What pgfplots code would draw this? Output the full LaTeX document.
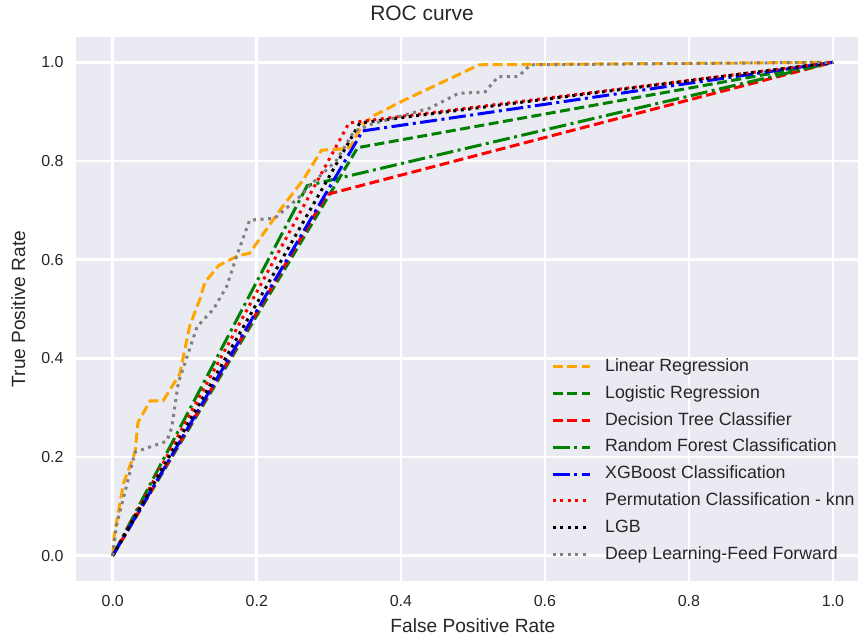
\documentclass[border=0pt]{standalone}
\usepackage{fontspec}
\setmainfont{Liberation Sans}
\usepackage{pgfplots}
\pgfplotsset{compat=1.18}
\definecolor{bgc}{HTML}{EAEAF2}
\definecolor{txt}{HTML}{262626}
\definecolor{mplorange}{HTML}{FFA500}
\definecolor{mplgreen}{HTML}{008000}
\definecolor{mplgray}{HTML}{808080}
\tikzset{
  mpldash/.style={dash pattern=on 10bp off 4.5bp},
  mpldashdot/.style={dash pattern=on 17bp off 4.5bp on 3bp off 4.5bp},
  mpldot/.style={dash pattern=on 3bp off 4.5bp},
}
\begin{document}
\begin{tikzpicture}
\begin{axis}[
  scale only axis,
  width=782bp, height=543.4bp,
  xmin=-0.051, xmax=1.0347,
  ymin=-0.0507, ymax=1.0507,
  axis background/.style={fill=bgc},
  axis line style={draw=none},
  major tick length=0pt,
  xtick={0,0.2,0.4,0.6,0.8,1.0},
  ytick={0,0.2,0.4,0.6,0.8,1.0},
  xticklabels={0.0,0.2,0.4,0.6,0.8,1.0},
  yticklabels={0.0,0.2,0.4,0.6,0.8,1.0},
  grid=major,
  major grid style={white, line width=2.6bp},
  xticklabel style={font=\fontsize{16}{19}\selectfont, text=txt, yshift=-10.7bp},
  yticklabel style={font=\fontsize{16}{19}\selectfont, text=txt, xshift=-9bp},
  title={ROC curve},
  title style={font=\fontsize{21}{25}\selectfont, text=txt, at={(axis description cs:0.4425,1)}, anchor=base, yshift=10.5bp},
  xlabel={False Positive Rate},
  xlabel style={font=\fontsize{19.2}{23}\selectfont, text=txt, at={(axis description cs:0.5075,0)}, anchor=base, yshift=-51.3bp},
  ylabel={True Positive Rate},
  ylabel style={font=\fontsize{19.2}{23}\selectfont, text=txt, at={(axis description cs:-0.0652,0.5)}, anchor=base},
  every axis plot/.append style={line width=3bp},
  legend image code/.code={\draw[#1] (0bp,0bp) -- (37bp,0bp);},
  legend cell align=left,
  legend style={draw=none, fill=none, at={(0.6074,0.4089)}, anchor=north west,
    inner sep=0pt, row sep=10.4bp, column sep=14bp,
    font=\fontsize{17.8}{20}\selectfont, text=txt,
    nodes={inner sep=0pt, text height=12.8bp, text depth=3.6bp}},
]
% Linear Regression
\addplot[mplorange, mpldash] coordinates {
  (0,0) (0.002,0.04) (0.015,0.147) (0.031,0.21) (0.035,0.27) (0.052,0.314)
  (0.07,0.314) (0.093,0.368) (0.107,0.466) (0.121,0.52) (0.128,0.554)
  (0.147,0.588) (0.174,0.608) (0.19,0.613) (0.232,0.70) (0.264,0.761)
  (0.29,0.822) (0.316,0.824) (0.33,0.828) (0.345,0.87) (0.36,0.89)
  (0.40,0.92) (0.509,0.995) (1,1)
};
% Logistic Regression
\addplot[mplgreen, mpldash] coordinates {(0,0) (0.34,0.827) (1,1)};
% Decision Tree
\addplot[red, mpldash] coordinates {(0,0) (0.297,0.732) (1,1)};
% Random Forest
\addplot[mplgreen, mpldashdot] coordinates {(0,0) (0.27,0.75) (1,1)};
% XGBoost
\addplot[blue, mpldashdot] coordinates {(0,0) (0.347,0.861) (1,1)};
% Permutation knn
\addplot[red, mpldot] coordinates {(0,0) (0.328,0.877) (1,1)};
% LGB
\addplot[black, mpldot] coordinates {(0,0) (0.343,0.877) (1,1)};
% Deep Learning
\addplot[mplgray, mpldot] coordinates {
  (0,0) (0.005,0.06) (0.031,0.21) (0.075,0.232) (0.082,0.26) (0.091,0.35)
  (0.117,0.464) (0.14,0.50) (0.158,0.545) (0.172,0.607) (0.19,0.68)
  (0.225,0.684) (0.26,0.728) (0.274,0.751) (0.31,0.80) (0.335,0.86)
  (0.36,0.875) (0.44,0.907) (0.48,0.937) (0.517,0.94) (0.535,0.971)
  (0.563,0.971) (0.57,0.981) (0.58,0.995) (1,1)
};
\legend{Linear Regression, Logistic Regression, Decision Tree Classifier,
  Random Forest Classification, XGBoost Classification,
  Permutation Classification - knn, LGB, Deep Learning-Feed Forward}
\end{axis}
\pgfresetboundingbox
\path (current axis.south west) ++(-76bp,-56.3bp) rectangle ++(858bp,637bp);
\end{tikzpicture}
\end{document}
